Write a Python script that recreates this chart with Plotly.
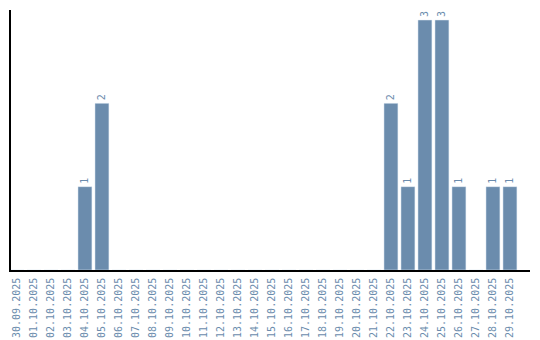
import plotly.graph_objects as go

dates = ["30.09.2025"] + [f"{d:02d}.10.2025" for d in range(1, 30)]
values = [0, 0, 0, 0, 1, 2, 0, 0, 0, 0, 0, 0, 0, 0, 0, 0, 0, 0, 0, 0, 0, 0, 2, 1, 3, 3, 1, 0, 1, 1]
labels = [str(v) if v else "" for v in values]

color = "#6b8cad"
mono = "DejaVu Sans Mono"
fig = go.Figure(go.Bar(
    x=dates, y=values, marker_color=color, text=labels,
    textposition="outside", textangle=-90, cliponaxis=False,
    textfont=dict(size=10, color=color, family=mono),
))
fig.update_layout(
    width=540, height=340, margin=dict(l=11, r=10, t=10, b=70, autoexpand=False),
    plot_bgcolor="white", paper_bgcolor="white", bargap=0.18, showlegend=False,
    font=dict(family=mono),
)
fig.update_xaxes(showline=True, linecolor="black", linewidth=1.5, tickangle=-90,
                 range=[-0.35, 30.18], ticklabelstandoff=2, automargin=False,
                 tickfont=dict(size=10, color=color, family=mono), showgrid=False, ticks="")
fig.update_yaxes(showline=True, linecolor="black", linewidth=1.5, range=[0, 3.12],
                 automargin=False,
                 showticklabels=False, showgrid=False, zeroline=False, ticks="")
fig.write_html("out.html")
